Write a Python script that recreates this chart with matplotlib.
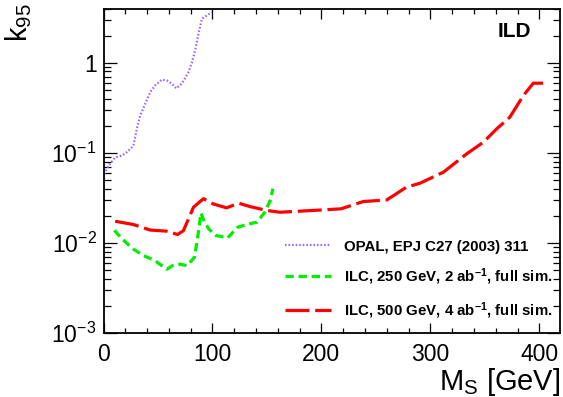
import matplotlib
matplotlib.use('Agg')
import matplotlib.pyplot as plt
from matplotlib.ticker import FixedLocator, LogLocator, MultipleLocator, NullFormatter

plt.rcParams['font.family'] = ['Liberation Sans', 'DejaVu Sans']
plt.rcParams['mathtext.fontset'] = 'custom'
plt.rcParams['mathtext.rm'] = 'Liberation Sans'
plt.rcParams['mathtext.it'] = 'Liberation Sans:italic'
plt.rcParams['mathtext.bf'] = 'Liberation Sans:bold'

# OPAL limit
opal_m = [0.6, 4.6, 10.7, 16.9, 21.5, 27.5, 30.6, 33.7, 38.3, 42.8, 47.4, 53.6,
          58.2, 62.8, 66.7, 71.9, 78.0, 81.1, 84.1, 87.2, 90.3, 94.9, 99.4]
opal_k = [0.058, 0.072, 0.089, 0.093, 0.102, 0.12, 0.185, 0.26, 0.35, 0.47, 0.56, 0.65,
          0.635, 0.585, 0.52, 0.585, 0.787, 1.0, 1.37, 2.1, 3.08, 3.35, 3.65]

# ILC 250 GeV, 2 ab-1
ilc250_m = [10, 17, 27, 37, 47, 58, 63.5, 70, 76.8, 83.4, 86, 89.5, 92, 96.6, 103,
            114, 123, 133, 141, 148, 153, 155.5]
ilc250_k = [0.0138, 0.0111, 0.0086, 0.0072, 0.0064, 0.0051, 0.0056, 0.0058, 0.0056,
            0.0069, 0.0106, 0.0215, 0.0178, 0.0143, 0.0121, 0.0114, 0.0149, 0.0162,
            0.017, 0.0219, 0.0295, 0.04]

# ILC 500 GeV, 4 ab-1
ilc500_m = [10.7, 27.5, 42.8, 58, 68, 73.4, 82.6, 91.7, 101, 113, 124, 134.6, 150,
            162, 202.5, 218, 238.5, 260, 278, 290.5, 312, 333.4, 348.6, 361, 373,
            385.4, 394.5, 405.5]
ilc500_k = [0.0174, 0.016, 0.0139, 0.0135, 0.0124, 0.0137, 0.0249, 0.031, 0.027,
            0.0245, 0.0276, 0.0253, 0.0229, 0.0219, 0.0233, 0.0239, 0.0288, 0.030,
            0.0415, 0.046, 0.061, 0.0975, 0.131, 0.185, 0.249, 0.433, 0.593, 0.593]

labels = ['OPAL, EPJ C27 (2003) 311',
          r'ILC, 250 GeV, 2 ab$^{\mathbf{-1}}$, full sim.',
          r'ILC, 500 GeV, 4 ab$^{\mathbf{-1}}$, full sim.']

W, H = 563, 397
fig = plt.figure(figsize=(W / 100, H / 100), dpi=100)
ax = fig.add_axes([103.5 / W, 1 - 333 / H, (560 - 103.5) / W, (333 - 8.5) / H])

ax.plot(opal_m, opal_k, color='#9966ff', lw=1.6, ls=(0, (0.7, 0.9)),
        label=labels[0])
ax.plot(ilc250_m, ilc250_k, color='#00ee00', lw=2.3, ls=(0, (2.6, 1.5)),
        label=labels[1])
ax.plot(ilc500_m, ilc500_k, color='#ff0000', lw=2.3, ls=(0, (7.5, 1.8)),
        label=labels[2])

ax.set_yscale('log')
ax.set_xlim(0, 419)
ax.set_ylim(1e-3, 4)

ax.xaxis.set_major_locator(MultipleLocator(100))
ax.xaxis.set_minor_locator(MultipleLocator(20))
ax.yaxis.set_major_locator(FixedLocator([1e-3, 1e-2, 1e-1, 1]))
ax.set_yticklabels([r'$10^{-3}$', r'$10^{-2}$', r'$10^{-1}$', '1'])
ax.yaxis.set_minor_locator(LogLocator(base=10, subs=range(2, 10), numticks=20))
ax.yaxis.set_minor_formatter(NullFormatter())

ax.tick_params(axis='both', which='both', direction='in', top=True, right=True,
               labelsize=16.5, width=0.9)
ax.tick_params(axis='x', which='major', length=7.5, pad=7)
ax.tick_params(axis='x', which='minor', length=3.8)
ax.tick_params(axis='y', which='major', length=9.5, pad=5)
ax.tick_params(axis='y', which='minor', length=5)
for s in ax.spines.values():
    s.set_linewidth(1.3)

fig.text(560 / W, 1 - 382 / H, r'$\mathrm{M}_{\mathrm{S}}$ [GeV]', fontsize=21,
         ha='right', va='center')
fig.text(19 / W, 1 - 23 / H, r'$\mathrm{k}_{95}$', fontsize=21, rotation=90,
         ha='center', va='center')
ax.text(0.937, 0.93, 'ILD', transform=ax.transAxes, fontsize=15,
        fontweight='bold', ha='right', va='center')

leg = ax.legend(loc='upper left', bbox_to_anchor=(284.6 / W, 1 - 239.5 / H),
                bbox_transform=fig.transFigure, frameon=False, fontsize=10.8,
                handlelength=3.12, handletextpad=0.84, labelspacing=0.87,
                borderpad=0, borderaxespad=0)
for t in leg.get_texts():
    t.set_fontweight('bold')

fig.savefig('out.png', dpi=100)
